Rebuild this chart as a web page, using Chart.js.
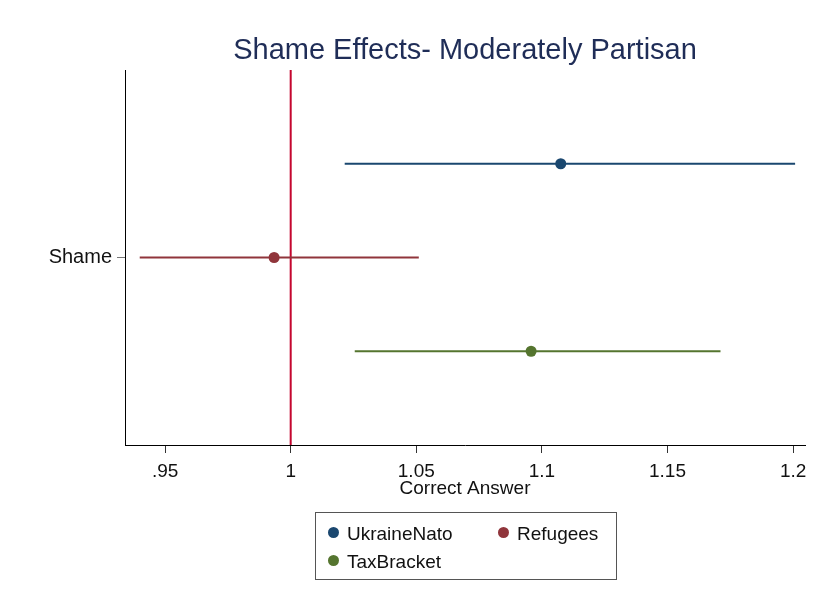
<!DOCTYPE html>
<html>
<head>
<meta charset="utf-8">
<script src="https://cdn.jsdelivr.net/npm/chart.js@4/dist/chart.umd.min.js"></script>
<style>
  html, body { margin: 0; padding: 0; background: #fff; }
  #wrap { position: relative; width: 820px; height: 599px; }
  #legend {
    position: absolute; left: 315px; top: 512px; width: 300px; height: 66px;
    border: 1px solid #555; box-sizing: content-box;
    font-family: "Liberation Sans", Arial, sans-serif; font-size: 19px; color: #111;
  }
  #legend .item { position: absolute; white-space: nowrap; line-height: 20px; }
  #legend .dot { display: inline-block; width: 11px; height: 11px; border-radius: 50%; margin-right: 8px; vertical-align: 2px; }
</style>
</head>
<body>
<div id="wrap">
  <canvas id="chart" width="820" height="599"></canvas>
  <div id="legend"></div>
</div>
<script>
// data
const series = ["UkraineNato", "Refugees", "TaxBracket"];
const estimates = [1.1075, 0.9934, 1.0957];
const lower = [1.0215, 0.9399, 1.0255];
const upper = [1.2008, 1.0510, 1.1711];
const rows = [1, 2, 3];
const colors = ["#1a476f", "#90353b", "#55752f"];
const xTicks = [0.95, 1, 1.05, 1.1, 1.15, 1.2];
const refLine = 1;

const font = "'Liberation Sans', Arial, sans-serif";

const datasets = [];
series.forEach((name, i) => {
  datasets.push({
    label: name + " CI",
    data: [{ x: lower[i], y: rows[i] }, { x: upper[i], y: rows[i] }],
    showLine: true,
    borderColor: colors[i],
    borderWidth: 2.2,
    pointRadius: 0
  });
});
datasets.push({
  label: "ref",
  data: [{ x: refLine, y: 0 }, { x: refLine, y: 4 }],
  showLine: true,
  borderColor: "#c4062f",
  borderWidth: 2,
  pointRadius: 0
});
series.forEach((name, i) => {
  datasets.push({
    label: name,
    data: [{ x: estimates[i], y: rows[i] }],
    pointRadius: 5.5,
    pointBackgroundColor: colors[i],
    pointBorderColor: colors[i],
    borderWidth: 0
  });
});

const titlePlugin = {
  id: "topTitle",
  afterDraw(chart) {
    const { ctx, chartArea } = chart;
    ctx.save();
    ctx.font = "29px " + font;
    ctx.fillStyle = "#1f2d57";
    ctx.textAlign = "center";
    ctx.textBaseline = "middle";
    ctx.fillText("Shame Effects- Moderately Partisan", (chartArea.left + chartArea.right) / 2, 51);
    ctx.restore();
  }
};

new Chart(document.getElementById("chart"), {
  type: "scatter",
  data: { datasets },
  plugins: [titlePlugin],
  options: {
    responsive: false,
    animation: false,
    layout: { padding: { top: 70, right: 15, left: 0, bottom: 95 } },
    plugins: { legend: { display: false }, tooltip: { enabled: false } },
    scales: {
      x: {
        type: "linear",
        min: 0.93404,
        max: 1.20474,
        afterBuildTicks: s => { s.ticks = xTicks.map(v => ({ value: v })); },
        afterFit: s => { s.height = 59; },
        grid: { drawOnChartArea: false, drawTicks: true, tickLength: 8, color: "#333" },
        border: { display: true, color: "#000", width: 1 },
        ticks: {
          padding: 7,
          color: "#111",
          font: { family: font, size: 19 },
          callback: v => String(+v.toFixed(2)).replace(/^0\./, ".")
        },
        title: {
          display: true,
          text: "Correct Answer",
          color: "#111",
          font: { family: font, size: 19 },
          padding: { top: 0, bottom: 4 }
        }
      },
      y: {
        type: "linear",
        min: 0,
        max: 4,
        reverse: true,
        afterBuildTicks: s => { s.ticks = [{ value: 2 }]; },
        afterFit: s => { s.width = 125; },
        grid: { drawOnChartArea: false, drawTicks: true, tickLength: 8, color: "#777" },
        border: { display: true, color: "#000", width: 1 },
        ticks: {
          padding: 5,
          color: "#111",
          font: { family: font, size: 20 },
          callback: () => "Shame"
        }
      }
    }
  }
});

// legend in two columns like the original
const legendPos = [[12, 11], [182, 11], [12, 39]];
const legend = document.getElementById("legend");
series.forEach((name, i) => {
  const el = document.createElement("div");
  el.className = "item";
  el.style.left = legendPos[i][0] + "px";
  el.style.top = legendPos[i][1] + "px";
  el.innerHTML = '<span class="dot" style="background:' + colors[i] + '"></span>' + name;
  legend.appendChild(el);
});
</script>
</body>
</html>
